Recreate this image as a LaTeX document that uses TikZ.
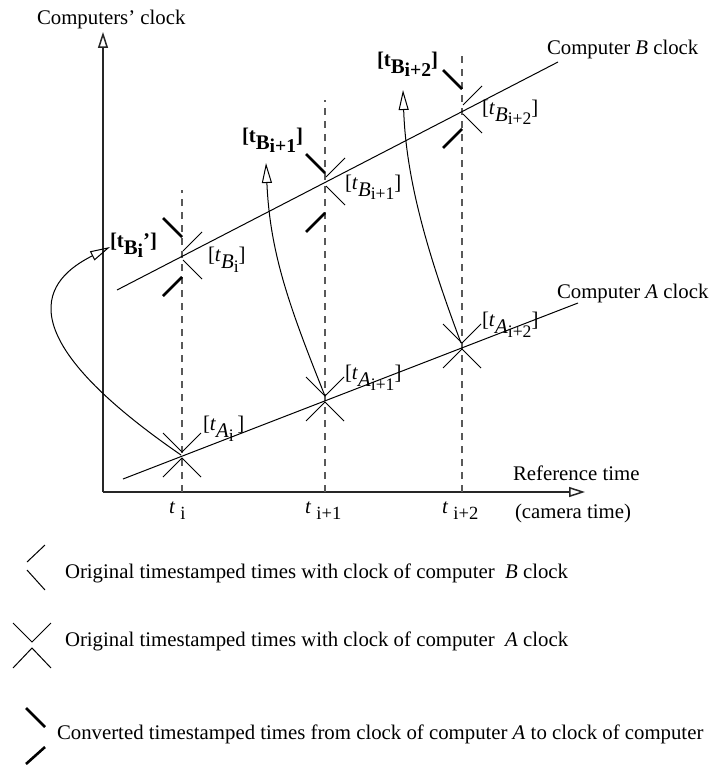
\documentclass[tikz,border=0pt]{standalone}
\usepackage{fontspec}
\setmainfont{Liberation Serif}
\usetikzlibrary{arrows.meta}
\newcommand{\tlab}[3]{[\textit{t}\raisebox{-3.5pt}{\textit{#1}\raisebox{-2pt}{\fontsize{8.8}{9}\selectfont #2}}#3]}
\newcommand{\tlabb}[2]{\textbf{[t\raisebox{-3.5pt}{B\raisebox{-1.5pt}{\fontsize{9.8}{10}\selectfont #1}}#2]}}
\newcommand{\tax}[1]{\textit{t}\ \raisebox{-3pt}{\fontsize{9.3}{10}\selectfont #1}}
\begin{document}
\begin{tikzpicture}[x=0.5pt,y=-0.5pt,line width=0.5pt,
  every node/.style={inner sep=0pt,outer sep=0pt,font=\fontsize{10.4}{12}\selectfont},
  axisarrow/.style={line width=0.75pt,draw=black!85,-{Triangle[open,length=8pt,width=5pt]}},
  guide/.style={draw=black!65,line width=0.6pt,dash pattern=on 3.5pt off 3pt},
  clockline/.style={line width=0.5pt},
  amark/.style={line width=0.5pt},
  bmark/.style={line width=0.5pt},
  cmark/.style={line width=1.3pt},
  transfer/.style={line width=0.5pt,-{Triangle[open,length=10pt,width=5pt]}},
  lbl/.style={anchor=base west}
]
\useasboundingbox (0,0) rectangle (709,765);

% axes
\coordinate (O) at (103,492);
\coordinate (Ytip) at (103,32);
\coordinate (Xtip) at (585,492);
\draw[axisarrow] (O) -- (Ytip);
\draw[axisarrow] (O) -- (Xtip);
\node[lbl] (ylab) at (37,25) {Computers' clock};
\node[lbl] (xlab) at (513,480) {Reference time};
\node[lbl] (xlab2) at (515,518) {(camera time)};

% dashed guides
\coordinate (Ti) at (182,492);  \coordinate (Di) at (182,190);
\coordinate (Ti1) at (325,492); \coordinate (Di1) at (325,100);
\coordinate (Ti2) at (462,492); \coordinate (Di2) at (462,50);
\draw[guide] (Ti) -- (Di);
\draw[guide] (Ti1) -- (Di1);
\draw[guide] (Ti2) -- (Di2);
\node[lbl] (ti) at (169,513) {\tax{i}};
\node[lbl] (ti1) at (305,513) {\tax{i+1}};
\node[lbl] (ti2) at (442,513) {\tax{i+2}};

% clock lines
\coordinate (Astart) at (123,479); \coordinate (Aend) at (578,303);
\coordinate (Bstart) at (117,290); \coordinate (Bend) at (558,62);
\draw[clockline] (Astart) -- (Aend);
\draw[clockline] (Bstart) -- (Bend);
\node[lbl] (Alab) at (557,298) {Computer \textit{A} clock};
\node[lbl] (Blab) at (547,55) {Computer \textit{B} clock};

% A crossings
\coordinate (Ai) at (182,457);
\coordinate (Ai1) at (325,401);
\coordinate (Ai2) at (462,348);
\foreach \c in {Ai,Ai1,Ai2}{
  \draw[amark] (\c) ++(-19,-24) -- ++(19,19) -- ++(19,-19);
  \draw[amark] (\c) ++(-19,20) -- ++(19,-19) -- ++(19,19);
}
% B crossings
\coordinate (Bi) at (182,257);
\coordinate (Bi1) at (325,183);
\coordinate (Bi2) at (462,111);
\foreach \c in {Bi,Bi1,Bi2}{
  \draw[bmark] (\c) ++(20,-25) -- ++(-19,19);
  \draw[bmark] (\c) ++(1,3) -- ++(19,19);
}
% converted marks
\coordinate (Ci) at (182,257);
\coordinate (Ci1) at (325,193);
\coordinate (Ci2) at (462,109);
\foreach \c in {Ci,Ci1,Ci2}{
  \draw[cmark] (\c) ++(-19,-39) -- ++(19,19);
  \draw[cmark] (\c) ++(0,20) -- ++(-19,19);
}

% labels
\node[lbl] (lAi) at (203,430) {\tlab{A}{i}{\,}};
\node[lbl] (lAi1) at (345,379) {\tlab{A}{i+1}{}};
\node[lbl] (lAi2) at (482,326) {\tlab{A}{i+2}{}};
\node[lbl] (lBi) at (208,261) {\tlab{B}{i}{}};
\node[lbl] (lBi1) at (345,189) {\tlab{B}{i+1}{}};
\node[lbl] (lBi2) at (482,114) {\tlab{B}{i+2}{}};
\node[lbl] (cBi) at (110,247) {\tlabb{i}{'}};
\node[lbl] (cBi1) at (242,142) {\tlabb{i+1}{}};
\node[lbl] (cBi2) at (377,67) {\tlabb{i+2}{}};

% transfer arrows
\coordinate (Vi) at (181,455);
\coordinate (Vi1) at (325,396);
\coordinate (Vi2) at (461,343);
\coordinate (Pi) at (110,247);
\coordinate (Pi1) at (266,163);
\coordinate (Pi2) at (403,90);
\draw[transfer] (Vi) .. controls (1,331) and (46,279) .. (Pi);
\draw[transfer] (Vi1) .. controls (289,306) and (270,253) .. (Pi1);
\draw[transfer] (Vi2) .. controls (428,255) and (406,180) .. (Pi2);

% legend
\coordinate (L1) at (27,566);
\draw[bmark] (L1) ++(18,-21) -- ++(-18,17);
\draw[bmark] (L1) ++(0,4) -- ++(18,20);
\node[lbl] (leg1) at (65,578) {Original timestamped times with clock of computer\ \ \textit{B} clock};
\coordinate (L2) at (32,645);
\draw[amark] (L2) ++(-19,-22) -- ++(19,19) -- ++(19,-19);
\draw[amark] (L2) ++(-19,23) -- ++(19,-20) -- ++(19,20);
\node[lbl] (leg2) at (65,646) {Original timestamped times with clock of computer\ \ \textit{A} clock};
\coordinate (L3) at (45,737);
\draw[cmark] (L3) ++(-19,-29) -- ++(19,19);
\draw[cmark] (L3) ++(0,10) -- ++(-19,17);
\node[lbl] (leg3) at (57,739) {Converted timestamped times from clock of computer \textit{A} to clock of computer};
\end{tikzpicture}
\end{document}
